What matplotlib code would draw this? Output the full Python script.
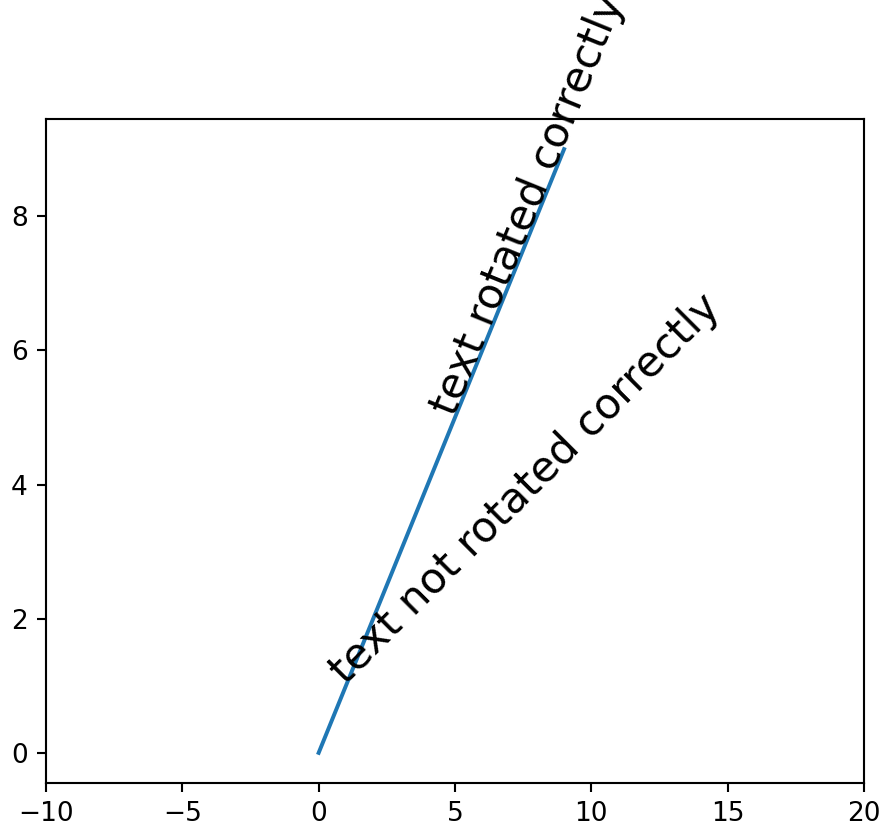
import numpy as np
import matplotlib
matplotlib.use("Agg")
import matplotlib.pyplot as plt

# line data
xs = list(range(0, 10))
ys = list(range(0, 10))

# text anchor points
l1 = np.array((1, 1))
l2 = np.array((5, 5))
angle = 45

DPI = 190
fig = plt.figure(figsize=(882 / DPI, 827 / DPI), dpi=DPI)
ax = fig.add_axes([46 / 882, 44 / 827, 818 / 882, 664 / 827])

ax.plot(xs, ys)
ax.set_xlim([-10, 20])

ax.text(*l1, 'text not rotated correctly', fontsize=16,
        rotation=angle, rotation_mode='anchor')
ax.text(*l2, 'text rotated correctly', fontsize=16,
        rotation=angle, rotation_mode='anchor',
        transform_rotates_text=True)

fig.savefig("out.png", dpi=DPI)
